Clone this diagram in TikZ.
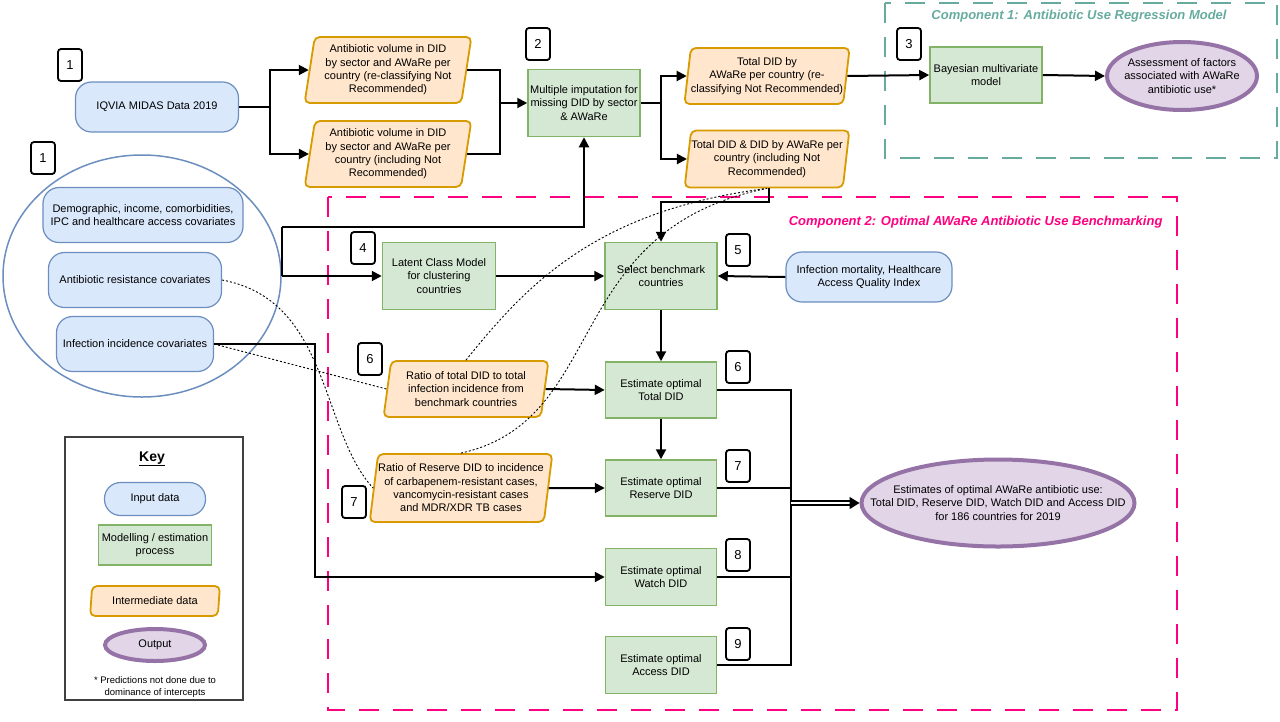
\documentclass[tikz,border=0pt]{standalone}
\usepackage{fontspec}
\setmainfont{Liberation Sans}
\usetikzlibrary{shapes.geometric,arrows.meta}
\definecolor{bfill}{HTML}{DAE8FC}\definecolor{bdraw}{HTML}{6C8EBF}
\definecolor{gfill}{HTML}{D5E8D4}\definecolor{gdraw}{HTML}{82B366}
\definecolor{ofill}{HTML}{FFE6CC}\definecolor{odraw}{HTML}{D79B00}
\definecolor{pfill}{HTML}{E1D5E7}\definecolor{pdraw}{HTML}{9673A6}
\definecolor{teal}{HTML}{67AB9F}\definecolor{mag}{HTML}{FF0080}
\begin{document}
\begin{tikzpicture}[x=1pt,y=-1pt,font=\fontsize{11}{13.3}\selectfont,
 inp/.style={draw=bdraw,fill=bfill,line width=1.2pt,rounded corners=16pt,align=center,inner sep=1pt},
 proc/.style={draw=gdraw,fill=gfill,line width=1.5pt,align=center,inner sep=0pt},
 mid/.style={draw=odraw,fill=ofill,line width=1.8pt,trapezium,trapezium left angle=80,trapezium right angle=100,trapezium stretches=true,rounded corners=5pt,align=center,inner sep=0pt},
 outp/.style={ellipse,draw=pdraw,fill=pfill,line width=4pt,align=center,inner sep=0pt},
 num/.style={draw,line width=1.8pt,rounded corners=3pt,minimum width=24pt,minimum height=32pt,font=\fontsize{13}{14}\selectfont},
 arr/.style={line width=2pt,-{Triangle[length=10pt,width=10pt]}},
 ln/.style={line width=2pt},
 dot/.style={dash pattern=on 2pt off 2pt,line width=0.9pt}]
\useasboundingbox (0,0) rectangle (1280,721);
% component boxes
\draw[teal,dash pattern=on 20pt off 14pt,line width=2pt] (885,3) rectangle (1277,158);
\node[teal,font=\bfseries\itshape\fontsize{13}{14}\selectfont] (c1) at (1079,16) {Component 1: Antibiotic Use Regression Model};
\draw[mag,dash pattern=on 20pt off 14pt,line width=2pt] (328,197) rectangle (1177,710);
\node[mag,font=\bfseries\itshape\fontsize{13}{14}\selectfont,anchor=east] (c2) at (1166,222) {Component 2: Optimal AWaRe Antibiotic Use Benchmarking};
% numbers
\node[num] (n1a) at (70,65) {1};
\node[num] (n1b) at (43,158) {1};
\node[num] (n2) at (538,44) {2};
\node[num] (n3) at (909,44) {3};
\node[num] (n4) at (363,248) {4};
\node[num] (n5) at (738,250) {5};
\node[num] (n6a) at (370,359) {6};
\node[num] (n6b) at (738,367) {6};
\node[num] (n7a) at (354,502) {7};
\node[num] (n7b) at (738,466) {7};
\node[num] (n8) at (738,555) {8};
\node[num] (n9) at (738,644) {9};
% big circle
\draw[bdraw,line width=1.5pt] (142,276) ellipse (139 and 121);
\node[inp,minimum width=163pt,minimum height=50pt] (iq) at (157,107) {IQVIA MIDAS Data 2019};
\node[inp,minimum width=200pt,minimum height=55pt] (dem) at (143,215) {Demographic, income, comorbidities,\\IPC and healthcare access covariates};
\node[inp,minimum width=173pt,minimum height=55pt] (res) at (135,280) {Antibiotic resistance covariates};
\node[inp,minimum width=157pt,minimum height=55pt] (inc) at (135,344) {Infection incidence covariates};
\node[inp,minimum width=166pt,minimum height=50pt] (mort) at (869,277) {Infection mortality, Healthcare\\Access Quality Index};
% orange
\node[mid,minimum width=167pt,minimum height=66pt] (a1) at (388,70) {Antibiotic volume in DID\\by sector and AWaRe per\\country (re-classifying Not\\Recommended)};
\node[mid,minimum width=167pt,minimum height=66pt] (a2) at (388,154) {Antibiotic volume in DID\\by sector and AWaRe per\\country (including Not\\Recommended)};
\node[mid,minimum width=165pt,minimum height=56pt] (t1) at (767,76) {Total DID by\\AWaRe per country (re-\\classifying Not Recommended)};
\node[mid,minimum width=165pt,minimum height=57pt] (t2) at (767,159) {Total DID \& DID by AWaRe per\\country (including Not\\Recommended)};
\node[mid,minimum width=165pt,minimum height=56pt] (r1) at (466,389) {Ratio of total DID to total\\infection incidence from\\benchmark countries};
\node[mid,minimum width=178pt,minimum height=68pt] (r2) at (461,488) {Ratio of Reserve DID to incidence\\of carbapenem-resistant cases,\\vancomycin-resistant cases\\and MDR/XDR TB cases};
% green
\node[proc,minimum width=112pt,minimum height=67pt] (mi) at (584,103) {Multiple imputation for\\missing DID by sector\\\& AWaRe};
\node[proc,minimum width=112pt,minimum height=56pt] (bay) at (986,75) {Bayesian multivariate\\model};
\node[proc,minimum width=113pt,minimum height=67pt] (lcm) at (439,276) {Latent Class Model\\for clustering\\countries};
\node[proc,minimum width=112pt,minimum height=67pt] (sel) at (661,276) {Select benchmark\\countries};
\node[proc,minimum width=111pt,minimum height=56pt] (et) at (661,390) {Estimate optimal\\Total DID};
\node[proc,minimum width=111pt,minimum height=56pt] (er) at (661,488) {Estimate optimal\\Reserve DID};
\node[proc,minimum width=111pt,minimum height=57pt] (ew) at (661,577) {Estimate optimal\\Watch DID};
\node[proc,minimum width=111pt,minimum height=57pt] (ea) at (661,665) {Estimate optimal\\Access DID};
% outputs
\node[outp,minimum width=150pt,minimum height=68pt,inner xsep=-12pt] (o1) at (1182,76) {Assessment of factors\\associated with AWaRe\\antibiotic use*};
\node[outp,minimum width=273pt,minimum height=87pt,inner xsep=-60pt,inner ysep=-10pt] (o2) at (998,503) {Estimates of optimal AWaRe antibiotic use:\\Total DID, Reserve DID, Watch DID and Access DID\\for 186 countries for 2019};
% key
\draw[line width=1.5pt,black!75] (65,437) rectangle (243,700);
\node[font=\bfseries\fontsize{14}{16}\selectfont] (key) at (152,459) {\underline{Key}};
\node[inp,minimum width=101pt,minimum height=33pt] (k1) at (155,499) {Input data};
\node[proc,minimum width=113pt,minimum height=40pt] (k2) at (155,545) {Modelling / estimation\\process};
\node[mid,minimum width=130pt,minimum height=30pt] (k3) at (155,601) {Intermediate data};
\node[outp,minimum width=100pt,minimum height=32pt] (k4) at (155,645) {Output};
\node[align=center,font=\fontsize{9.5}{12}\selectfont] (fn) at (155,687) {* Predictions not done due to\\dominance of intercepts};
% connectors
\coordinate (j1) at (270,107);
\draw[ln] (iq.east) -- (j1);
\draw[arr] (j1) |- (a1.west);
\draw[arr] (j1) |- (a2.west);
\coordinate (j2) at (500,103);
\draw[ln] (a1.east) -| (j2);
\draw[ln] (a2.east) -| (j2);
\draw[arr] (j2) -- (mi.west);
\coordinate (j3) at (661,103);
\draw[ln] (mi.east) -- (j3);
\draw[arr] (j3) |- (t1.west);
\draw[arr] (j3) |- (t2.west);
\draw[arr] (t1.east) -- (bay.west);
\draw[arr] (bay.east) -- (o1.west);
\coordinate (c0) at (282,227);
\coordinate (c1b) at (282,276);
\draw[ln] (c0) -- (c1b);
\draw[arr] (c0) -| (mi.south);
\draw[arr] (c1b) -- (lcm.west);
\draw[arr] (lcm.east) -- (sel.west);
\draw[arr] (mort.west) -- (sel.east);
\coordinate (tb) at (769,202);
\draw[arr] (t2.south -| tb) -- (tb) -| (sel.north);
\draw[arr] (sel.south) -- (et.north);
\draw[arr] (et.south) -- (er.north);
\draw[arr] (r1.east) -- (et.west);
\draw[arr] (r2.east) -- (er.west);
\coordinate (iw) at (315,577);
\draw[arr] (inc.east) -| (iw) -- (ew.west);
\coordinate (cc) at (791,503);
\draw[ln] (et.east) -| (791,665) -- (ea.east);
\draw[ln] (er.east) -- (791,488);
\draw[ln] (ew.east) -- (791,577);
\draw[double,double distance=2.5pt,line width=1.5pt,-{Triangle[length=10pt,width=12pt]}] (cc) -- (o2.west);
% dotted
\draw[dot] (res.east) .. controls (330,300) and (320,430) .. (r2.west);
\draw[dot] (inc.east) -- (r1.west);
\draw[dot] (r1.north) .. controls (530,280) and (600,210) .. (t2.south);
\draw[dot] (r2.north) .. controls (610,420) and (560,230) .. (t2.south);
\end{tikzpicture}
\end{document}
